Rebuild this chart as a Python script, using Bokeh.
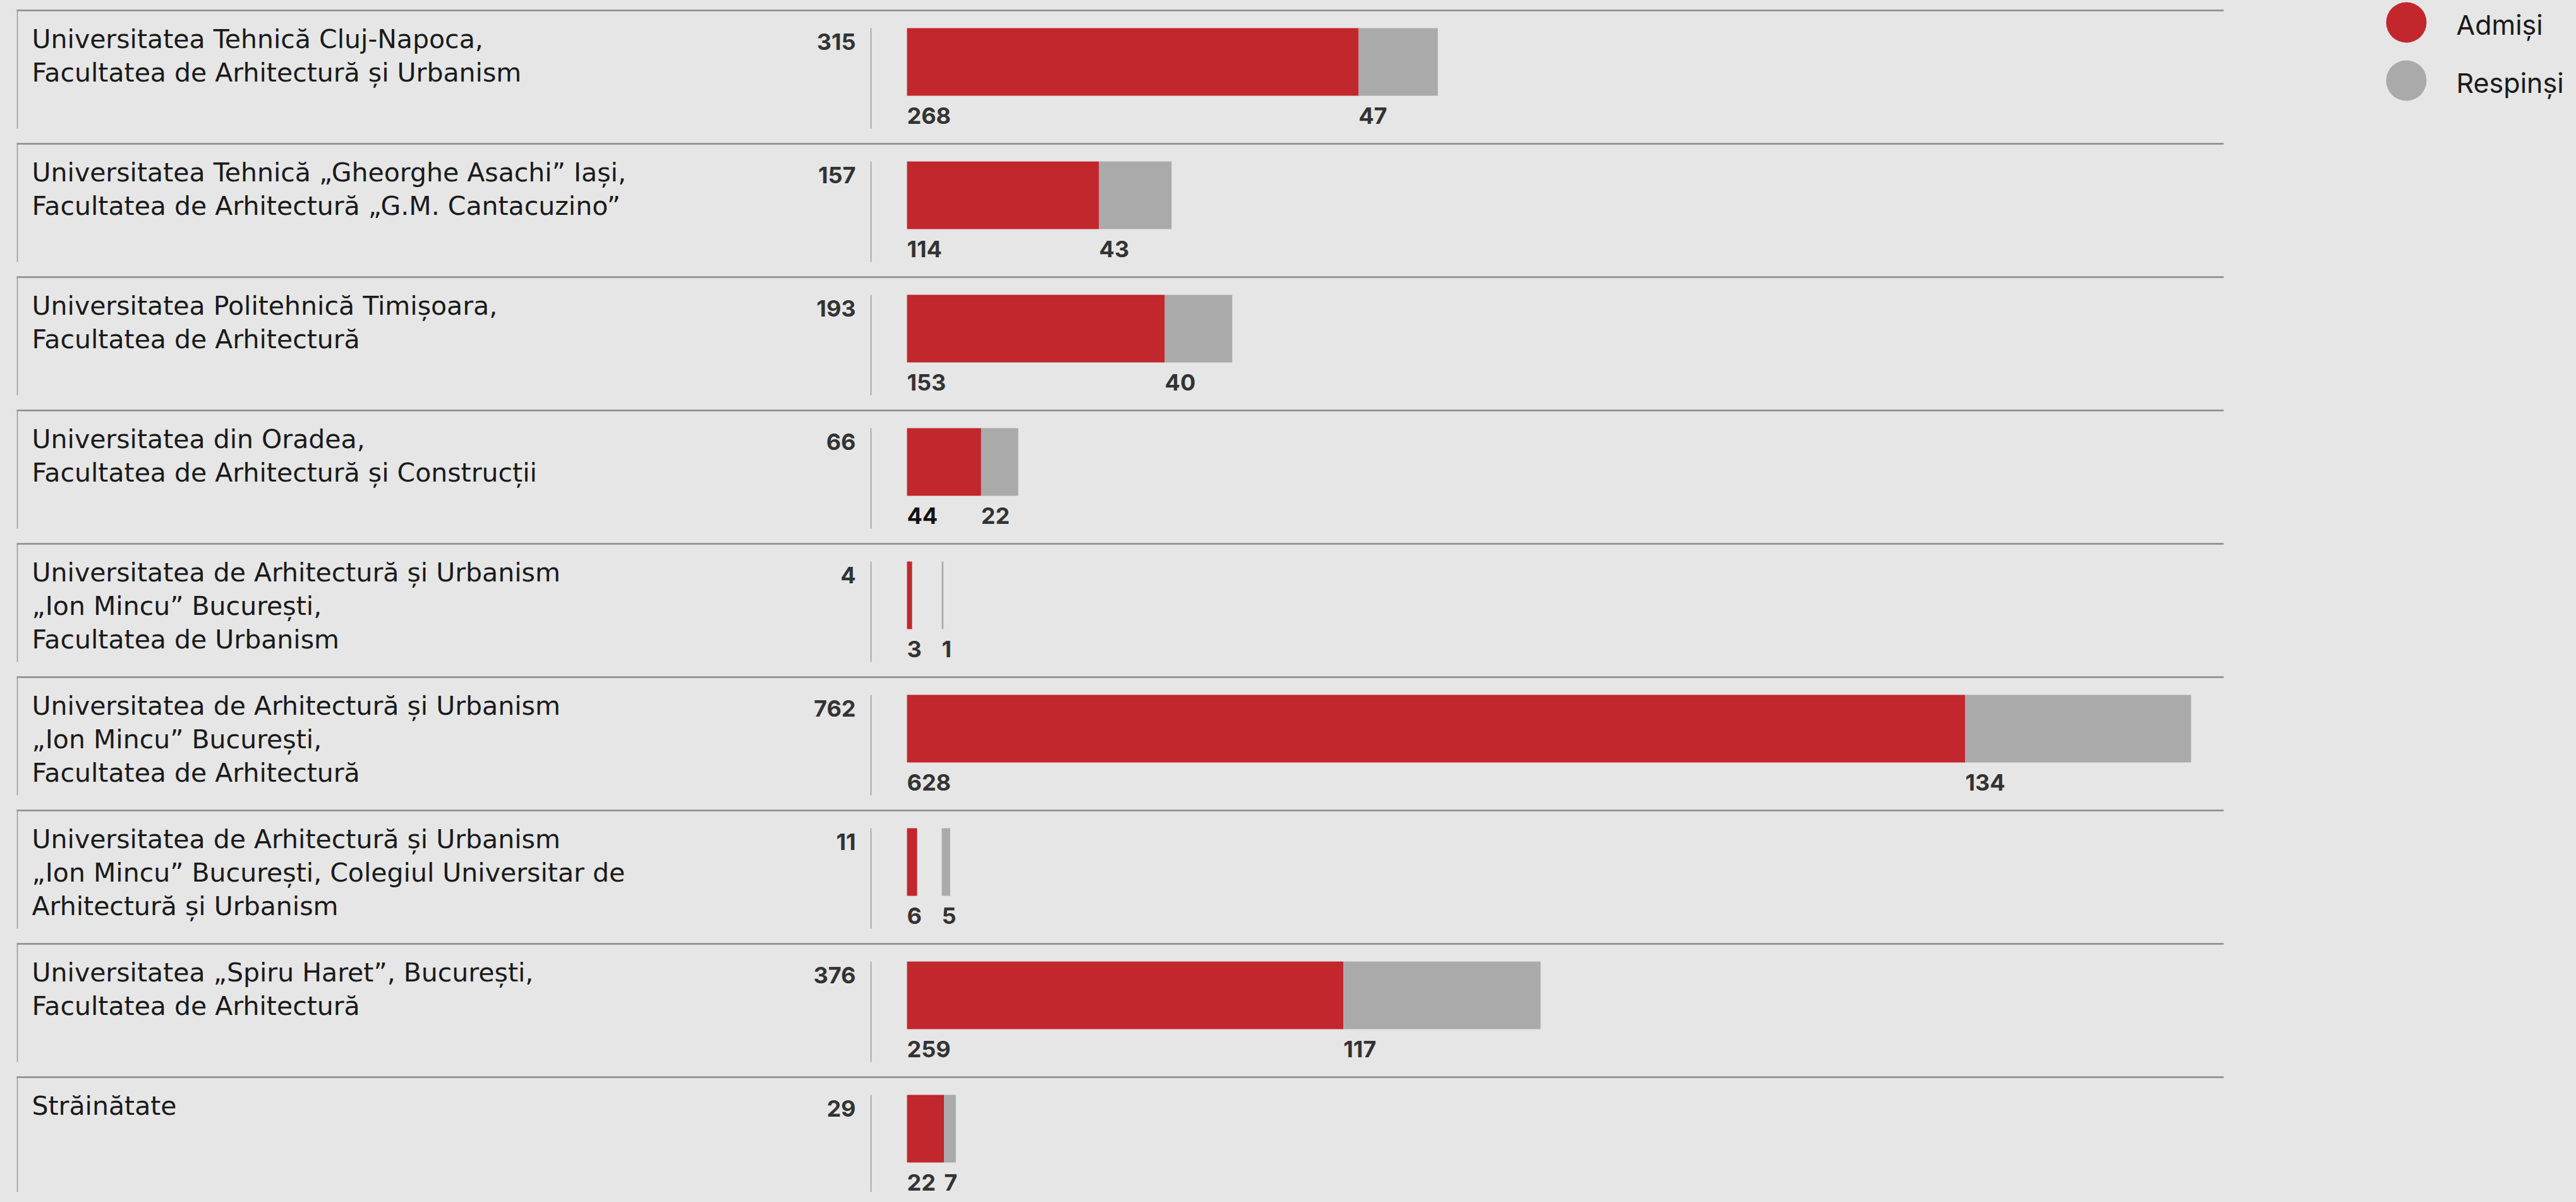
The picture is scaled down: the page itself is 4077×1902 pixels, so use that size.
from bokeh.plotting import figure
from bokeh.models import Range1d
from bokeh.core.properties import value
from bokeh.embed import file_html
from bokeh.resources import INLINE

# ---------------- data ----------------
institutions = [
    "Universitatea Tehnică Cluj-Napoca,\nFacultatea de Arhitectură și Urbanism",
    "Universitatea Tehnică „Gheorghe Asachi” Iași,\nFacultatea de Arhitectură „G.M. Cantacuzino”",
    "Universitatea Politehnică Timișoara,\nFacultatea de Arhitectură",
    "Universitatea din Oradea,\nFacultatea de Arhitectură și Construcții",
    "Universitatea de Arhitectură și Urbanism\n„Ion Mincu” București,\nFacultatea de Urbanism",
    "Universitatea de Arhitectură și Urbanism\n„Ion Mincu” București,\nFacultatea de Arhitectură",
    "Universitatea de Arhitectură și Urbanism\n„Ion Mincu” București, Colegiul Universitar de\nArhitectură și Urbanism",
    "Universitatea „Spiru Haret”, București,\nFacultatea de Arhitectură",
    "Străinătate",
]
admisi = [268, 114, 153, 44, 3, 628, 6, 259, 22]
respinsi = [47, 43, 40, 22, 1, 134, 5, 117, 7]
legend_labels = ["Admiși", "Respinși"]

# ---------------- style / layout ----------------
RED = "#c1272d"
GRAY = "#aaaaaa"
BG = "#e6e6e6"
LINE = "#8a8a8a"
TXT = "#1a1a1a"
NUM = "#333333"
FONT = "Inter"
LABEL_FONT = "DejaVu Sans"

W, H = 4061, 1886
PX = 2.667        # screen px per student
ROW = 211.0       # screen px per row
BAR0 = 1435.0     # screen x of bar start
TOP0 = 16.0       # screen y of first row top
SHIFT = 0.3       # baseline correction, in em


def dx(px):
    return (px - BAR0) / PX


def dy(py):
    return (py - TOP0) / ROW


p = figure(width=W, height=H, output_backend="svg", toolbar_location=None,
           x_range=Range1d(dx(0), dx(W)),
           y_range=Range1d(dy(H), dy(0)),
           x_axis_type=None, y_axis_type=None, min_border=0)
p.background_fill_color = BG
p.border_fill_color = BG
p.outline_line_color = None
p.grid.visible = False

n = len(institutions)
rows = list(range(n))
totals = [a + r for a, r in zip(admisi, respinsi)]

# separators
p.segment(x0=[dx(26)] * n, x1=[dx(3519)] * n, y0=rows, y1=rows,
          line_color=LINE, line_width=2.5)
p.segment(x0=[dx(27)] * n, x1=[dx(27)] * n, y0=rows,
          y1=[r + 187 / ROW for r in rows], line_color="#999999", line_width=1.5)
p.segment(x0=[dx(1378)] * n, x1=[dx(1378)] * n,
          y0=[r + 28 / ROW for r in rows],
          y1=[r + 187 / ROW for r in rows], line_color="#999999", line_width=1.5)

# bars
bar_y = [r + (28 + 53.5) / ROW for r in rows]
bar_h = 107 / ROW
min_start = 55 / PX
gray_left = [max(a, min_start) for a in admisi]
gray_right = [g + r for g, r in zip(gray_left, respinsi)]
p.hbar(y=bar_y, left=0, right=admisi, height=bar_h, fill_color=RED, line_color=None)
p.hbar(y=bar_y, left=gray_left, right=gray_right, height=bar_h,
       fill_color=GRAY, line_color=None)

# institution labels
LS = 41
lx, ly, lt = [], [], []
for r, name in zip(rows, institutions):
    for j, line in enumerate(name.split("\n")):
        lx.append(dx(50))
        ly.append(r + (58 + 53 * j - SHIFT * LS) / ROW)
        lt.append(line)
p.text(x=lx, y=ly, text=lt, text_font=value(LABEL_FONT), text_font_size=f"{LS}px",
       text_color=TXT, text_baseline="alphabetic", text_align="left")

# totals
NS = 36
p.text(x=[dx(1354)] * n, y=[r + (60 - SHIFT * NS) / ROW for r in rows],
       text=[str(t) for t in totals],
       text_font=value(FONT), text_font_size=f"{NS}px", text_font_style="bold",
       text_color=NUM, text_baseline="alphabetic", text_align="right")

# value labels
adm_colors = [NUM] * n
adm_colors[3] = "#111111"
vy = [r + (177 - SHIFT * NS) / ROW for r in rows]
p.text(x=[0] * n, y=vy, text=[str(a) for a in admisi],
       text_font=value(FONT), text_font_size=f"{NS}px", text_font_style="bold",
       text_color=adm_colors, text_baseline="alphabetic", text_align="left")
p.text(x=gray_left, y=vy, text=[str(v) for v in respinsi],
       text_font=value(FONT), text_font_size=f"{NS}px", text_font_style="bold",
       text_color=NUM, text_baseline="alphabetic", text_align="left")

# legend
GS = 43
p.scatter(x=[dx(3808)] * 2, y=[dy(35), dy(127)], size=64, marker="circle",
          fill_color=[RED, GRAY], line_color=None)
p.text(x=[dx(3887)] * 2, y=[dy(51 - SHIFT * GS), dy(143 - SHIFT * GS)], text=legend_labels,
       text_font=value(FONT), text_font_size=f"{GS}px", text_color=TXT,
       text_baseline="alphabetic", text_align="left")

html = file_html(p, INLINE)
html = html.replace("<head>", "<head><style>body{background:#e6e6e6;}</style>", 1)
open("out.html", "w").write(html)
